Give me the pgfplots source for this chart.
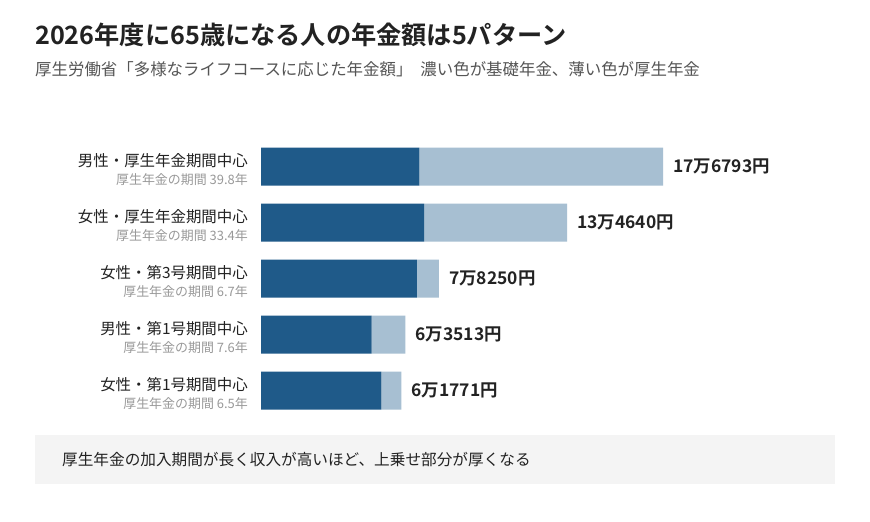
\documentclass[border=0pt]{standalone}
\usepackage{fontspec}
\setmainfont{Noto Sans CJK JP}[BoldFont={* Bold}]
\usepackage{pgfplots}
\pgfplotsset{compat=1.18}
\definecolor{basic}{HTML}{1F5A89}
\definecolor{kosei}{HTML}{A7BFD2}
\definecolor{ink}{HTML}{222222}
\definecolor{subgray}{HTML}{555555}
\definecolor{lightgray}{HTML}{999999}
\definecolor{boxbg}{HTML}{F4F4F4}

\newcommand{\cat}[2]{{\fontsize{15.5}{19}\selectfont #1}\\[5bp]{\fontsize{13}{19}\selectfont\color{lightgray}#2}}

\begin{document}
\begin{tikzpicture}
\path[fill=white] (0,0) rectangle (870bp,522bp);

% title and subtitle
\node[anchor=base west, inner sep=0pt, text=ink] at (35bp,477bp)
  {\fontsize{25.3}{30}\selectfont\bfseries 2026年度に65歳になる人の年金額は5パターン};
\node[anchor=base west, inner sep=0pt, text=subgray] at (35bp,446bp)
  {\fontsize{16.5}{20}\selectfont 厚生労働省「多様なライフコースに応じた年金額」\hspace{8bp}濃い色が基礎年金、薄い色が厚生年金};

% footer box
\fill[boxbg] (35bp,38bp) rectangle (835bp,87bp);
\node[anchor=base west, inner sep=0pt, text=ink] at (62bp,56bp)
  {\fontsize{15.7}{19}\selectfont 厚生年金の加入期間が長く収入が高いほど、上乗せ部分が厚くなる};

\begin{axis}[
    at={(261bp,103.5bp)}, anchor=south west,
    scale only axis,
    width=568.5bp, height=280bp,
    xbar stacked,
    bar width=38bp,
    xmin=0, xmax=250000,
    ymin=-0.5, ymax=4.5,
    y dir=reverse,
    axis line style={draw=none},
    major tick length=0pt,
    xtick=\empty,
    ytick={0,1,2,3,4},
    yticklabels={
      {\cat{男性・厚生年金期間中心}{厚生年金の期間 39.8年}},
      {\cat{女性・厚生年金期間中心}{厚生年金の期間 33.4年}},
      {\cat{女性・第3号期間中心}{厚生年金の期間 6.7年}},
      {\cat{男性・第1号期間中心}{厚生年金の期間 7.6年}},
      {\cat{女性・第1号期間中心}{厚生年金の期間 6.5年}}
    },
    yticklabel style={align=right, inner sep=0pt, anchor=east, xshift=-13bp, yshift=-3bp, text=ink},
    clip=false,
]
% basic pension (dark)
\addplot[fill=basic, draw=none] coordinates {
    (69600,0) (71700,1) (68600,2) (48700,3) (52900,4)
};
% employee pension (light)
\addplot[fill=kosei, draw=none] coordinates {
    (107193,0) (62940,1) (9650,2) (14813,3) (8871,4)
};
\foreach \t/\y/\s in {176793/0/17万6793円, 134640/1/13万4640円, 78250/2/7万8250円, 63513/3/6万3513円, 61771/4/6万1771円}{
  \edef\temp{\noexpand\node[anchor=west, inner sep=0pt, xshift=10bp, text=ink, font=\noexpand\fontsize{17.5}{20}\noexpand\selectfont\noexpand\bfseries] at (axis cs:\t,\y) {\s};}
  \temp
}
\end{axis}
\end{tikzpicture}
\end{document}
